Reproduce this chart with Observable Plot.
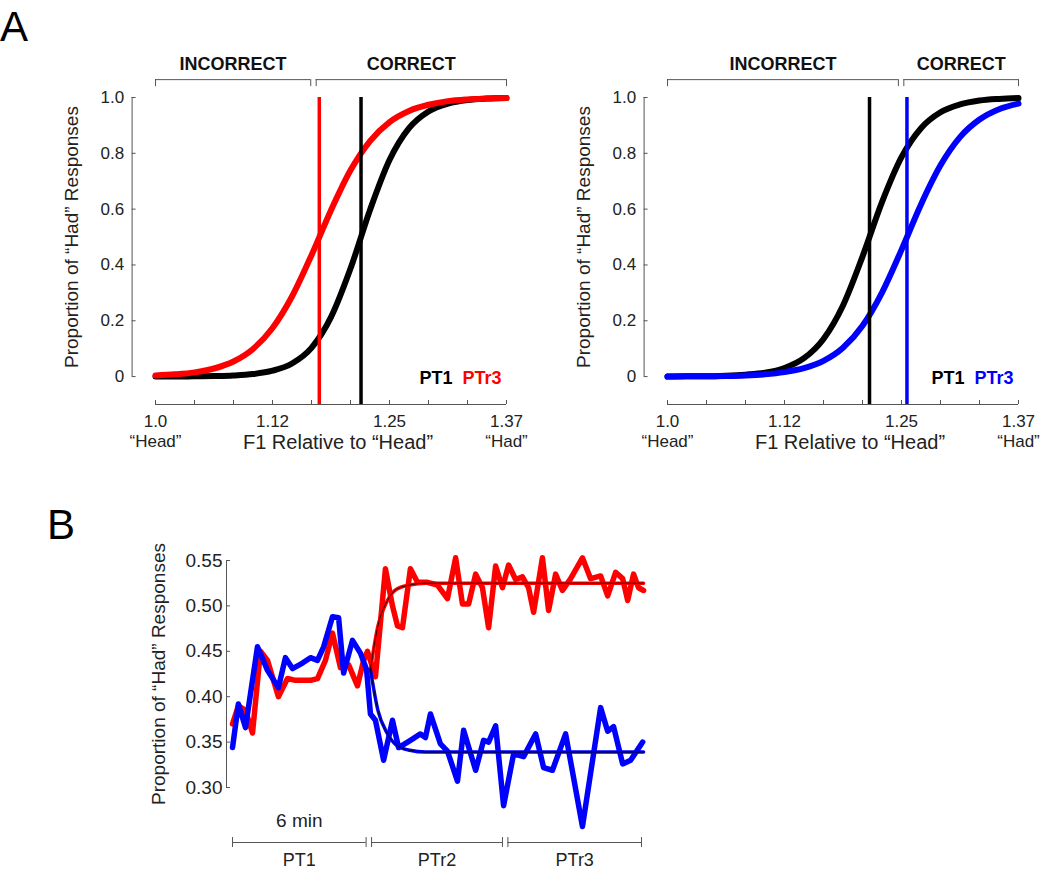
<!DOCTYPE html>
<html><head><meta charset="utf-8">
<script src="https://cdn.jsdelivr.net/npm/d3@7"></script>
<script src="https://cdn.jsdelivr.net/npm/@observablehq/plot@0.6"></script>
<style>
html,body{margin:0;padding:0;background:#fff;}
#root{position:relative;width:1050px;height:870px;font-family:"Liberation Sans",Arial,Helvetica,sans-serif;}
.panel{position:absolute;}
.letter{position:absolute;font-size:42px;line-height:42px;color:#000;}
</style></head><body>
<div id="root">
<div class="letter" style="left:0;top:6px">A</div>
<div class="letter" style="left:47px;top:504px">B</div>
</div>
<script>
// ---------- DATA ----------
// Panel A: continuum steps (F1 relative to "Head"), sampled psychometric curves
const steps = [0,1,2,3,4,5,6,7,8,9];
const sampleSteps = [0,0.5,1,1.5,2,2.5,3,3.5,4,4.5,5,5.5,6,6.5,7,7.5,8,8.5,9];
const f1TickSteps = [0,3,6,9];
const f1TickLabels = ["1.0","1.12","1.25","1.37"];
const f1EndLabels = ["“Head”","","","“Had”"];
const propTicks = [0,0.2,0.4,0.6,0.8,1.0];
const propTickLabels = ["0","0.2","0.4","0.6","0.8","1.0"];

const leftPT1   = [0.000,0.000,0.001,0.002,0.004,0.009,0.021,0.047,0.103,0.213,0.387,0.597,0.776,0.890,0.950,0.978,0.991,0.996,0.998];
const leftPTr3  = [0.004,0.008,0.015,0.029,0.054,0.099,0.174,0.287,0.435,0.596,0.739,0.844,0.912,0.952,0.974,0.987,0.993,0.996,0.998];
const rightPT1  = [0.000,0.001,0.001,0.003,0.007,0.014,0.031,0.066,0.135,0.255,0.430,0.625,0.786,0.890,0.947,0.975,0.989,0.995,0.998];
const rightPTr3 = [0.000,0.001,0.001,0.002,0.004,0.008,0.016,0.030,0.056,0.103,0.182,0.301,0.454,0.617,0.757,0.858,0.921,0.958,0.978];

const leftBoundaries  = [5.27, 4.20];   // PT1, PTr3 category boundaries (steps)
const rightBoundaries = [5.18, 6.14];
const bracketSplits   = [4.05, 5.99];   // INCORRECT | CORRECT split, left & right
const bracketLabels   = ["INCORRECT","CORRECT"];
const legendLabels    = ["PT1","PTr3"];

// Panel B: time course (minutes) of proportion "Had" responses
const redTimes  = [0.00,0.26,0.57,0.88,1.23,1.54,2.02,2.42,2.77,3.12,3.43,3.74,4.09,4.40,4.75,5.11,5.50,5.77,5.94,6.29,6.73,7.04,7.26,7.48,7.83,8.14,8.58,9.02,9.46,9.82,10.12,10.39,10.70,11.00,11.27,11.58,11.88,12.15,12.46,12.76,13.03,13.25,13.64,13.91,14.22,14.52,14.88,15.40,15.76,16.20,16.51,16.86,17.17,17.39,17.65,17.87,18.09];
const redValues = [0.370,0.390,0.385,0.360,0.450,0.440,0.400,0.420,0.418,0.418,0.418,0.420,0.440,0.470,0.432,0.435,0.412,0.440,0.450,0.422,0.541,0.500,0.478,0.476,0.541,0.526,0.526,0.523,0.508,0.553,0.502,0.502,0.535,0.520,0.476,0.544,0.520,0.545,0.529,0.532,0.520,0.493,0.553,0.495,0.535,0.517,0.530,0.553,0.530,0.533,0.511,0.537,0.530,0.506,0.535,0.520,0.517];
const blueTimes  = [0.00,0.26,0.57,1.10,1.54,2.02,2.33,2.64,3.08,3.43,3.74,4.01,4.40,4.67,4.89,5.28,5.63,5.90,6.07,6.29,6.65,7.04,7.31,7.83,8.27,8.49,8.71,9.15,9.46,9.90,10.17,10.70,11.05,11.27,11.58,11.93,12.37,12.81,13.34,13.69,14.08,14.66,15.40,16.20,16.51,16.77,17.17,17.52,18.05];
const blueValues = [0.344,0.392,0.366,0.455,0.429,0.410,0.443,0.431,0.437,0.443,0.440,0.455,0.488,0.487,0.426,0.462,0.448,0.430,0.381,0.374,0.330,0.374,0.344,0.352,0.359,0.355,0.381,0.348,0.340,0.307,0.363,0.319,0.352,0.350,0.368,0.280,0.337,0.334,0.359,0.322,0.319,0.359,0.257,0.388,0.362,0.367,0.326,0.330,0.350];
const fitTimes      = [6.07,6.40,6.80,7.20,7.80,8.50,18.09];
const redFitValues  = [0.430,0.478,0.505,0.518,0.523,0.525,0.525];
const blueFitValues = [0.430,0.385,0.360,0.347,0.341,0.339,0.339];
const phaseLabels = ["PT1","PTr2","PTr3"];
const phaseStarts = [0,6,12];
const phaseEnds   = [6,12,18];
const bTicks = [0.30,0.35,0.40,0.45,0.50,0.55];
const durationLabel = "6 min";

// ---------- STYLE ----------
const FONT = '"Liberation Sans", Arial, Helvetica, sans-serif';
const RED = "#ff0000", BLUE = "#0000ff", BLACK = "#000000", AXIS = "#555555";
const yLabel = "Proportion of “Had” Responses";

function panelA(series, boundaries, split, legendColors) {
  const X0 = -0.6, X1 = 9, Y0 = -0.1, Y1 = 1.0;
  const pxX = 39, pxY = 279;
  const curves = series.flatMap((s, k) => sampleSteps.map((x, i) => ({x, y: s.values[i], k})));
  const bounds = boundaries.map((b, i) => ({x: b, color: legendColors[i]}));
  const segs = [
    {label: bracketLabels[0], x1: steps[0], x2: split - 0.07},
    {label: bracketLabels[1], x1: split + 0.07, x2: steps[steps.length - 1]}
  ];
  const segEnds = segs.flatMap(s => [s.x1, s.x2]);
  const bY = 1.064;
  return Plot.plot({
    width: 538, height: 470,
    marginLeft: 131.6, marginRight: 32, marginTop: 97, marginBottom: 66,
    x: {domain: [X0, X1]}, y: {domain: [Y0, Y1]},
    style: {fontFamily: FONT, fontSize: "17px", color: "#222", background: "transparent"},
    marks: [
      // y axis
      Plot.ruleX([X0], {y1: 0, y2: 1, stroke: AXIS}),
      Plot.ruleY(propTicks, {y: d => d, x1: X0, x2: X0 + 4 / pxX, stroke: AXIS}),
      Plot.axisY({ticks: propTicks, tickFormat: d => propTickLabels[propTicks.indexOf(d)], tickSize: 0, tickPadding: 8, label: null, fontSize: 17}),
      Plot.text([yLabel], {frameAnchor: "left", textAnchor: "middle", y: 0.5, dx: -60, rotate: -90, fontSize: 19, fill: "#222"}),
      // x axis
      Plot.ruleY([Y0], {x1: steps[0], x2: steps[steps.length - 1], stroke: AXIS}),
      Plot.ruleX(steps, {x: d => d, y1: Y0, y2: Y0 + 4 / pxY, stroke: AXIS}),
      Plot.axisX({ticks: f1TickSteps, tickFormat: d => {
        const i = f1TickSteps.indexOf(d);
        return f1EndLabels[i] ? f1TickLabels[i] + "\n" + f1EndLabels[i] : f1TickLabels[i];
      }, tickSize: 0, tickPadding: 9, label: null, fontSize: 17, lineHeight: 1.15}),
      Plot.text(["F1 Relative to “Head”"], {x: (f1TickSteps[0] + f1TickSteps[3]) / 2, y: Y0, dx: 7, dy: 38, fontSize: 20, fill: "#222"}),
      // brackets
      Plot.ruleY(segs, {x1: "x1", x2: "x2", y: bY, stroke: AXIS}),
      Plot.ruleX(segEnds, {x: d => d, y1: bY, y2: bY - 7 / pxY, stroke: AXIS}),
      Plot.text(segs, {x: d => (d.x1 + d.x2) / 2, y: 1.118, text: "label", fontWeight: "bold", fontSize: 18, fill: "#111", style: "letter-spacing:1.4px"}),
      // curves
      Plot.line(curves, {x: "x", y: "y", z: "k", stroke: d => legendColors[d.k], strokeWidth: 6, curve: "monotone-x"}),
      // boundaries
      Plot.ruleX(bounds, {x: "x", y1: Y0, y2: Y1, stroke: "color", strokeWidth: 3.5}),
      // legend
      Plot.text([legendLabels[1]], {x: steps[steps.length - 1], y: 0, dx: -5, dy: 2, textAnchor: "end", fontWeight: "bold", fontSize: 18, fill: legendColors[1]}),
      Plot.text([legendLabels[0]], {x: steps[steps.length - 1], y: 0, dx: -54, dy: 2, textAnchor: "end", fontWeight: "bold", fontSize: 18, fill: legendColors[0]})
    ]
  });
}

function panelB() {
  const X0 = -0.264, X1 = 18.10;
  const pxX = 22.72, pxY = 908;
  const red = redTimes.map((t, i) => ({t, v: redValues[i]}));
  const blue = blueTimes.map((t, i) => ({t, v: blueValues[i]}));
  const redFit = fitTimes.map((t, i) => ({t, v: redFitValues[i]}));
  const blueFit = fitTimes.map((t, i) => ({t, v: blueFitValues[i]}));
  const phases = phaseLabels.map((label, i) => ({label, x1: phaseStarts[i] + (i === 0 ? 0 : 0.12), x2: phaseEnds[i] - (i === phaseLabels.length - 1 ? 0 : 0.12)}));
  const ends = phases.flatMap(p => [p.x1, p.x2]);
  const bY = 0.2394;
  return Plot.plot({
    width: 660, height: 370,
    marginLeft: 226, marginRight: 16.7, marginTop: 60, marginBottom: 83,
    x: {domain: [X0, X1], axis: null}, y: {domain: [0.30, 0.55]},
    style: {fontFamily: FONT, fontSize: "18px", color: "#222", background: "transparent"},
    marks: [
      Plot.ruleX([X0], {y1: bTicks[0], y2: bTicks[bTicks.length - 1], stroke: AXIS}),
      Plot.ruleY(bTicks, {y: d => d, x1: X0, x2: X0 + 4 / pxX, stroke: AXIS}),
      Plot.axisY({ticks: bTicks, tickFormat: d3.format(".2f"), tickSize: 0, tickPadding: 4, label: null, fontSize: 19}),
      Plot.text([yLabel], {frameAnchor: "left", textAnchor: "middle", y: (bTicks[0] + bTicks[bTicks.length - 1]) / 2, dx: -68, rotate: -90, fontSize: 19, fill: "#222"}),
      Plot.line(red, {x: "t", y: "v", stroke: RED, strokeWidth: 5.5}),
      Plot.line(blue, {x: "t", y: "v", stroke: BLUE, strokeWidth: 5.5}),
      Plot.line(redFit, {x: "t", y: "v", stroke: RED, strokeWidth: 3.5, curve: "monotone-x"}),
      Plot.line(blueFit, {x: "t", y: "v", stroke: BLUE, strokeWidth: 3.5, curve: "monotone-x"}),
      Plot.line(redFit, {x: "t", y: "v", stroke: "#3a0000", strokeWidth: 1, curve: "monotone-x"}),
      Plot.line(blueFit, {x: "t", y: "v", stroke: "#000022", strokeWidth: 1, curve: "monotone-x"}),
      // phase brackets
      Plot.ruleY(phases, {x1: "x1", x2: "x2", y: bY, stroke: AXIS}),
      Plot.ruleX(ends, {x: d => d, y1: bY - 5 / pxY, y2: bY + 5 / pxY, stroke: AXIS}),
      Plot.text(phases, {x: d => (d.x1 + d.x2) / 2, y: bY, dy: 18, text: "label", fontSize: 18, fill: "#222"}),
      Plot.text([durationLabel], {x: (phases[0].x1 + phases[0].x2) / 2, y: bY, dy: -22, fontSize: 19, fill: "#222"})
    ]
  });
}

const root = document.getElementById("root");
function place(el, left, top) {
  const d = document.createElement("div");
  d.className = "panel";
  d.style.left = left + "px";
  d.style.top = top + "px";
  d.appendChild(el);
  root.appendChild(d);
}
place(panelA([{values: leftPT1}, {values: leftPTr3}], leftBoundaries, bracketSplits[0], [BLACK, RED]), 0, 0);
place(panelA([{values: rightPT1}, {values: rightPTr3}], rightBoundaries, bracketSplits[1], [BLACK, BLUE]), 512, 0);
place(panelB(), 0, 500);
</script>
</body></html>
